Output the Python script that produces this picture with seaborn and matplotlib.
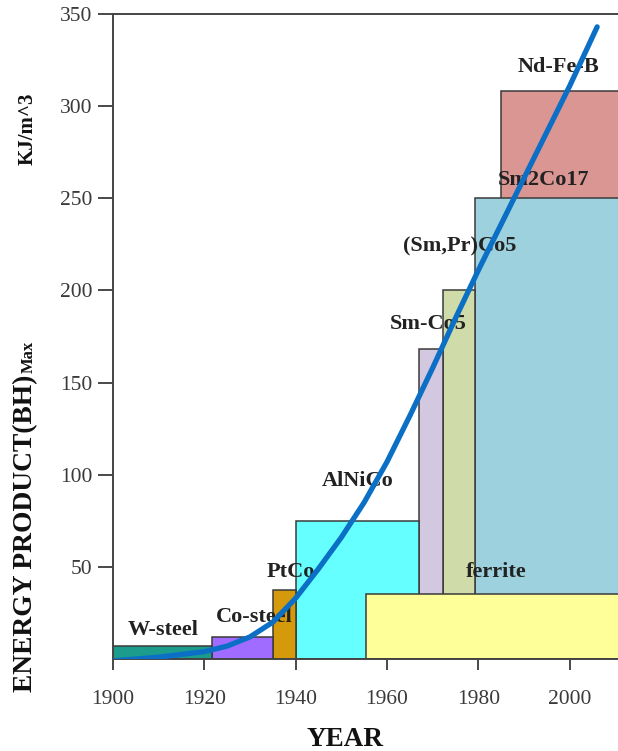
import matplotlib
matplotlib.use("Agg")
import matplotlib.pyplot as plt
import seaborn as sns
import pandas as pd

# Magnet families: start year, end year, max energy product (kJ/m^3)
materials = ["Nd-Fe-B", "Sm2Co17", "(Sm,Pr)Co5", "Sm-Co5", "AlNiCo",
             "PtCo", "Co-steel", "W-steel", "ferrite"]
start_year = [1985.0, 1979.2, 1972.2, 1967.0, 1940.0, 1935.0, 1921.6, 1900.0, 1955.5]
end_year = [2011.0, 2011.0, 1979.2, 1972.2, 1967.0, 1940.0, 1935.0, 1921.6, 2011.0]
bh_max = [308, 250, 200, 168, 75, 37.5, 12, 7, 35]
colors = ["#da9692", "#9dd1de", "#cfdba8", "#d2c8e0", "#66ffff",
          "#d49a0c", "#a06bff", "#1c9c8c", "#ffff99"]

# Label anchors (year, value) for each family
label_year = [1997.6, 1994.3, 1976.0, 1969.1, 1953.6, 1938.9, 1930.9, 1910.9, 1983.8]
label_value = [321, 260, 224, 182, 96.5, 47.3, 22.8, 15.8, 47.3]

# Trend of the record energy product
trend_year = [1900, 1905, 1910, 1915, 1920, 1925, 1930, 1935, 1940, 1945, 1950,
              1955, 1960, 1965, 1970, 1975, 1980, 1985, 1990, 1995, 2000, 2006]
trend_value = [-1, 0, 1, 2.5, 4, 7, 12, 20, 33, 49, 66,
               85, 107, 132, 158, 185, 211, 236, 261, 286, 311, 343]

sns.set_style("ticks")
plt.rcParams["font.family"] = ["Liberation Serif", "DejaVu Serif"]

fig = plt.figure(figsize=(6.18, 7.51), dpi=100)
ax = fig.add_axes([0.1828, 0.1225, 0.8182, 0.8589])

ax.bar(start_year, bh_max,
       width=[e - s for s, e in zip(start_year, end_year)],
       align="edge", color=colors, edgecolor="#3a3a3a", linewidth=1.1, zorder=2)

for name, lx, ly in zip(materials, label_year, label_value):
    ax.text(lx, ly, name, ha="center", va="center", fontsize=16,
            fontweight="bold", color="#222222", zorder=4)

trend = pd.DataFrame({"year": trend_year, "bh": trend_value})
sns.lineplot(data=trend, x="year", y="bh", ax=ax, color="#0b6fc6",
             linewidth=3.8, solid_capstyle="round", solid_joinstyle="round",
             zorder=5)

ax.set_xlim(1900, 2010.7)
ax.set_ylim(0, 350)
ax.set_xticks([1900, 1920, 1940, 1960, 1980, 2000])
ax.set_yticks([50, 100, 150, 200, 250, 300, 350])
ax.tick_params(axis="x", direction="out", length=8, width=1.3, pad=14,
               labelsize=15.5, colors="#3a3a3a")
ax.tick_params(axis="y", direction="out", length=11, width=1.3, pad=4,
               labelsize=15.5, colors="#3a3a3a")
for side in ["left", "top", "bottom"]:
    ax.spines[side].set_color("#444444")
    ax.spines[side].set_linewidth(1.4)
ax.spines["right"].set_visible(False)
ax.set_xlabel("")
ax.set_ylabel("")

fig.text(0.5587, -0.0013, "YEAR", ha="center", va="bottom", fontsize=19.5,
         fontweight="bold", color="#111111")
fig.text(0.042, 0.079, "ENERGY PRODUCT(BH)", rotation=90, ha="center",
         va="bottom", fontsize=19.8, fontweight="bold", color="#111111")
fig.text(0.047, 0.503, "Max", rotation=90, ha="center", va="bottom",
         fontsize=12, fontweight="bold", color="#111111")
fig.text(0.045, 0.78, "KJ/m^3", rotation=90, ha="center", va="bottom",
         fontsize=15, fontweight="bold", color="#111111")

fig.savefig("out.png", dpi=100)
